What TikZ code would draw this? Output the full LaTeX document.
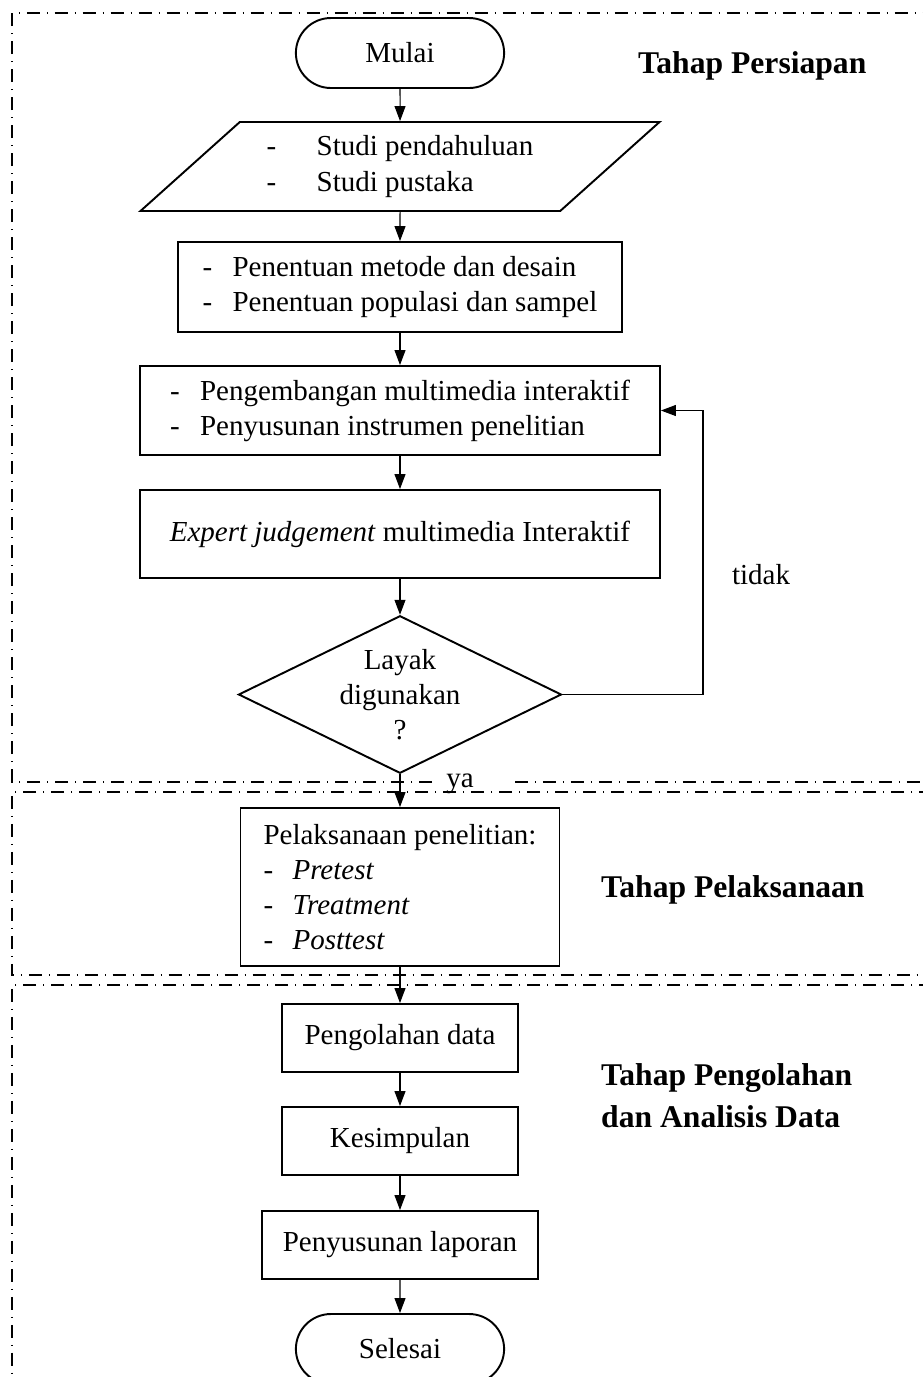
\documentclass[tikz,border=0pt]{standalone}
\usepackage{fontspec}
\setmainfont{Liberation Serif}
\usetikzlibrary{shapes.geometric,shapes.misc,arrows.meta}
\newcommand{\lsdash}[1]{\makebox[#1][l]{-}}

\begin{document}
\begin{tikzpicture}[x=0.02cm,y=-0.02cm,
  font=\fontsize{16.5}{20}\selectfont,
  box/.style={draw,line width=1.1pt,align=left},
  term/.style={draw,line width=1.1pt,rounded rectangle,minimum width=4.4cm,minimum height=1.4cm},
  arr/.style={-{Triangle[length=0.3cm,width=0.22cm]},line width=0.6pt},
  stage/.style={line width=0.8pt,dash pattern=on 0.26cm off 0.14cm on 0.02cm off 0.14cm},
  tahap/.style={font=\fontsize{18}{24}\selectfont\bfseries,anchor=west,align=left}]
\useasboundingbox (0,0) rectangle (923,1377);
% batas tiap tahap
\draw[stage] (432,782) -- (12,782) -- (12,13) -- (960,13);
\draw[stage] (515,782) -- (960,782);
\draw[stage] (960,792) -- (12,792) -- (12,975) -- (960,975);
\draw[stage] (960,985) -- (12,985) -- (12,1400);
% tahap persiapan
\node[term] (mulai) at (400,53) {Mulai};
\node[draw,line width=1.1pt,trapezium,trapezium left angle=40.3,trapezium right angle=139.7,
  trapezium stretches=true,minimum width=10.4cm,minimum height=1.78cm,align=left] (studi) at (400,166.5)
  {\lsdash{1cm}Studi pendahuluan\\ \lsdash{1cm}Studi pustaka};
\node[box,minimum width=8.88cm,minimum height=1.8cm] (metode) at (400,287)
  {\lsdash{0.6cm}Penentuan metode dan desain\\ \lsdash{0.6cm}Penentuan populasi dan sampel};
\node[box,minimum width=10.4cm,minimum height=1.78cm] (media) at (400,410.5)
  {\lsdash{0.6cm}Pengembangan multimedia interaktif\\ \lsdash{0.6cm}Penyusunan instrumen penelitian};
\node[box,minimum width=10.4cm,minimum height=1.76cm] (expert) at (400,534)
  {\textit{Expert judgement} multimedia Interaktif};
\node[draw,line width=1.1pt,diamond,aspect=2.05,inner sep=1.5pt,align=center] (layak) at (400,694.5)
  {Layak\\digunakan\\?};
\coordinate (balik) at (703,694.5);
\node (tidak) at (761,575) {tidak};
\node (ya) at (460,784) {ya};
% tahap pelaksanaan
\node[box,minimum width=6.38cm,minimum height=3.16cm] (laksana) at (400,887)
  {Pelaksanaan penelitian:\\ \lsdash{0.58cm}\textit{Pretest}\\ \lsdash{0.58cm}\textit{Treatment}\\ \lsdash{0.58cm}\textit{Posttest}};
% tahap pengolahan
\node[box,minimum width=4.72cm,minimum height=1.36cm] (olah) at (400,1038) {Pengolahan data};
\node[box,minimum width=4.72cm,minimum height=1.36cm] (simpul) at (400,1141) {Kesimpulan};
\node[box,minimum width=5.52cm,minimum height=1.36cm] (laporan) at (400,1245) {Penyusunan laporan};
\node[term] (selesai) at (400,1349) {Selesai};
% judul tahap
\node[tahap] (persiapan) at (632,66) {Tahap Persiapan};
\node[tahap] (pelaksanaan) at (595,890) {Tahap Pelaksanaan};
\node[tahap] (pengolahan) at (595,1096) {Tahap Pengolahan\\dan Analisis Data};
% alur
\draw[arr] (mulai) -- (studi);
\draw[arr] (studi) -- (metode);
\draw[arr] (metode) -- (media);
\draw[arr] (media) -- (expert);
\draw[arr] (expert) -- (layak);
\draw[arr] (layak.east) -- (balik) |- (media.east);
\draw[arr] (layak) -- (laksana);
\draw[arr] (laksana) -- (olah);
\draw[arr] (olah) -- (simpul);
\draw[arr] (simpul) -- (laporan);
\draw[arr] (laporan) -- (selesai);
\end{tikzpicture}
\end{document}
